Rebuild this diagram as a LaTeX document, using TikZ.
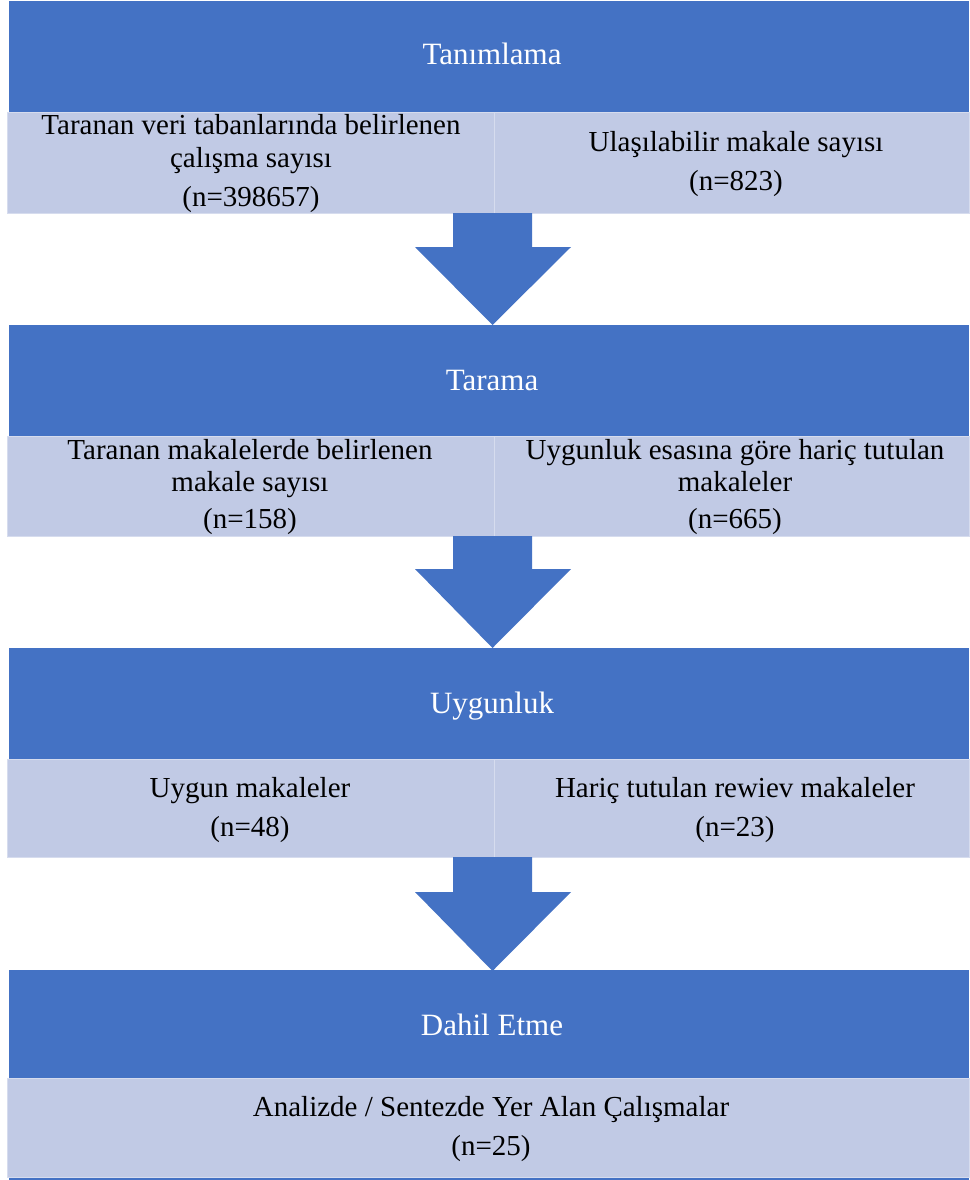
\documentclass[tikz,border=0pt]{standalone}
\usepackage{fontspec}
\setmainfont{Liberation Serif}
\definecolor{hdrblue}{RGB}{68,114,196}
\definecolor{cellfill}{RGB}{193,202,229}
\definecolor{celledge}{RGB}{214,220,238}
\begin{document}
\begin{tikzpicture}[x=1pt,y=-1pt,
  hdr/.style={fill=hdrblue,draw=none},
  cellbox/.style={fill=cellfill,draw=celledge,line width=1pt},
  arrowshape/.style={fill=hdrblue,draw=none},
  hdrtext/.style={anchor=base,text=white,inner sep=0pt,font=\fontsize{31}{34}\selectfont},
  bodytext/.style={anchor=base,text=black,inner sep=0pt,font=\fontsize{29}{32}\selectfont}]
\useasboundingbox (0,0) rectangle (969,1180);
\fill[white] (0,0) rectangle (969,1180);
% ---------- Section 1
\path[hdr] (9,1) rectangle (969,113);
\path[cellbox] (7,113) rectangle (494,213);
\path[cellbox] (494,113) rectangle (969,213);
\node[hdrtext] (h1) at (492,65) {Tanımlama};
\node[bodytext] (a1) at (251,135) {Taranan veri tabanlarında belirlenen};
\node[bodytext] (a2) at (251,167) {çalışma sayısı};
\node[bodytext] (a3) at (251,206) {(n=398657)};
\node[bodytext] (b1) at (736,151) {Ulaşılabilir makale sayısı};
\node[bodytext] (b2) at (736,190) {(n=823)};
% arrow 1
\path[arrowshape] (453,213) -- (532,213) -- (532,247) -- (571,247) -- (492.5,325) -- (415,247) -- (453,247) -- cycle;
% ---------- Section 2
\path[hdr] (9,325) rectangle (969,436);
\path[cellbox] (7,436) rectangle (494,536);
\path[cellbox] (494,436) rectangle (969,536);
\node[hdrtext] (h2) at (492,390) {Tarama};
\node[bodytext] (c1) at (250,459) {Taranan makalelerde belirlenen};
\node[bodytext] (c2) at (250,491) {makale sayısı};
\node[bodytext] (c3) at (250,528) {(n=158)};
\node[bodytext] (d1) at (735,459) {Uygunluk esasına göre hariç tutulan};
\node[bodytext] (d2) at (735,491) {makaleler};
\node[bodytext] (d3) at (735,528) {(n=665)};
% arrow 2
\path[arrowshape] (453,536) -- (532,536) -- (532,569) -- (571,569) -- (492.5,648) -- (415,569) -- (453,569) -- cycle;
% ---------- Section 3
\path[hdr] (9,648) rectangle (969,759);
\path[cellbox] (7,759) rectangle (494,857);
\path[cellbox] (494,759) rectangle (969,857);
\node[hdrtext] (h3) at (492,713) {Uygunluk};
\node[bodytext] (e1) at (250,797) {Uygun makaleler};
\node[bodytext] (e2) at (250,836) {(n=48)};
\node[bodytext] (f1) at (735,797) {Hariç tutulan rewiev makaleler};
\node[bodytext] (f2) at (735,836) {(n=23)};
% arrow 3
\path[arrowshape] (453,857) -- (532,857) -- (532,892) -- (571,892) -- (492.5,971) -- (415,892) -- (453,892) -- cycle;
% ---------- Section 4
\path[hdr] (9,970) rectangle (969,1180);
\path[cellbox] (7,1078) rectangle (969,1177);
\node[hdrtext] (h4) at (492,1035) {Dahil Etme};
\node[bodytext] (g1) at (491,1116) {Analizde / Sentezde Yer Alan Çalışmalar};
\node[bodytext] (g2) at (491,1155) {(n=25)};
\end{tikzpicture}
\end{document}
